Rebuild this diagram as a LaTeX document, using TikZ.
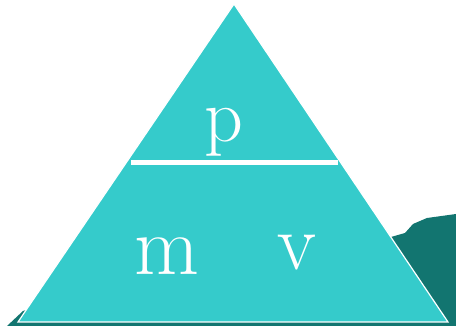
\documentclass[tikz,border=0pt]{standalone}
\usepackage{fontspec}
\definecolor{tricol}{RGB}{53,203,203}
\definecolor{shadowcol}{RGB}{18,117,112}
\begin{document}
\begin{tikzpicture}[x=1pt,y=-1pt,
  letter/.style={text=white,inner sep=0pt,anchor=base}]
\useasboundingbox (0,0) rectangle (456,326);
\fill[shadowcol] (7,326) -- (23,311) -- (60,300) -- (391,237) -- (405,233) -- (413,224) -- (427,218) -- (456,214) -- (456,326) -- cycle;
\coordinate (apex) at (234,4);
\coordinate (bl) at (18,322);
\coordinate (br) at (448,322);
\filldraw[fill=tricol,draw=white,line width=1.2pt,line join=miter] (apex) -- (br) -- (bl) -- cycle;
\coordinate (la) at (131,162.5);
\coordinate (lb) at (338,162.5);
\draw[white,line width=4.5pt] (la) -- (lb);
\node[letter,font=\fontsize{76}{76}\selectfont] (p) at (224,142) {p};
\node[letter,font=\fontsize{84}{84}\selectfont] (m) at (167,275) {m};
\node[letter,font=\fontsize{80}{80}\selectfont] (v) at (297,270) {v};
\end{tikzpicture}
\end{document}
